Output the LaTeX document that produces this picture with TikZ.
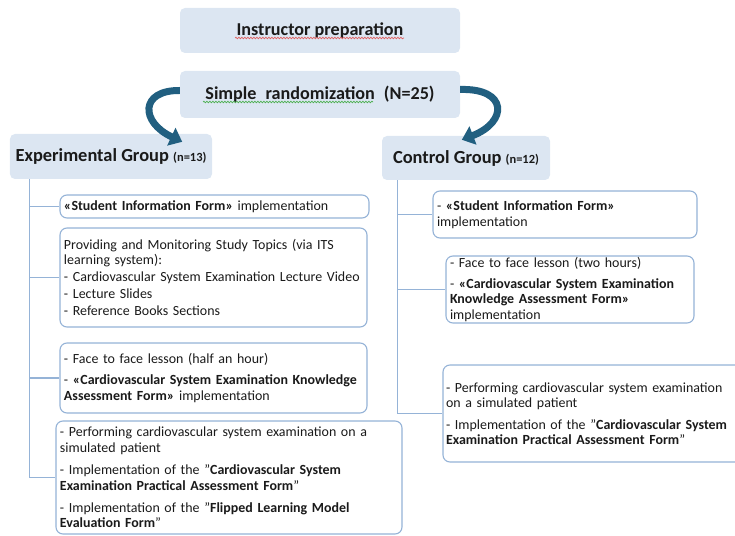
\documentclass[tikz,border=0pt]{standalone}
\usepackage{fontspec}
\setmainfont{Carlito}
\usetikzlibrary{arrows.meta,calc,decorations.pathmorphing}
\definecolor{boxfill}{HTML}{DCE6F2}
\definecolor{lineblue}{HTML}{95B3D7}
\definecolor{arrowblue}{HTML}{215F80}
\definecolor{txt}{HTML}{1A1A1A}
\definecolor{spellred}{HTML}{E06060}
\definecolor{spellgreen}{HTML}{4CAF50}
\begin{document}
\begin{tikzpicture}[x=1bp,y=-1bp,
  head/.style={fill=boxfill, rounded corners=5bp, inner sep=0pt, text=txt,
    minimum width=280bp, font=\fontsize{18.2}{21}\selectfont\bfseries},
  grp/.style={fill=boxfill, rounded corners=5bp, inner sep=0pt, text=txt,
    font=\fontsize{18.5}{21}\selectfont\bfseries},
  item/.style={draw=lineblue, line width=1.1bp, fill=white, rounded corners=7bp,
    inner xsep=4bp, inner ysep=0pt, align=left, text=txt,
    font=\fontsize{14}{15.5}\selectfont},
  conn/.style={draw=lineblue, line width=1.2bp},
  bigarrow/.style={draw=arrowblue, line width=7bp, -{Triangle[width=19bp,length=12bp]}},
  squiggle/.style={line width=0.7bp, decorate, decoration={snake, amplitude=0.8bp, segment length=3bp}}
]
\useasboundingbox (0,0) rectangle (735,536);

% header boxes
\node[head, minimum height=45bp] (inst) at (320,30.5) {Instructor preparation};
\node[head, minimum height=47bp] (rand) at (320,94.5)
  {Simple\hspace{0.5em}randomization\hspace{0.5em}(N=25)};

% spell-check underlines seen in the reference
\draw[squiggle, spellred] ($(inst.center)+(-85,7.5)$) -- ($(inst.center)+(84,7.5)$);
\draw[squiggle, spellgreen] ($(rand.center)+(-117,7.5)$) -- ($(rand.center)+(53,7.5)$);

% group boxes
\node[grp, minimum width=202bp, minimum height=45bp] (exp) at (111,156.5)
  {Experimental Group {\fontsize{12.5}{14}\selectfont (n=13)}};
\node[grp, minimum width=168bp, minimum height=44bp] (ctrl) at (466,158)
  {Control Group {\fontsize{12.5}{14}\selectfont (n=12)}};

% experimental items
\node[item, text width=301bp, minimum height=23bp] (e1) at (214.5,206.5)
  {\textbf{«Student Information Form»} implementation};
\node[item, text width=299bp, minimum height=99bp] (e2) at (213.5,277.5)
  {Providing and Monitoring Study Topics (via ITS\\
   learning system):\\[1.5bp]
   - Cardiovascular System Examination Lecture Video\\[1.5bp]
   - Lecture Slides\\[1.5bp]
   - Reference Books Sections};
\node[item, text width=299bp, minimum height=70bp] (e3) at (213.5,378)
  {- Face to face lesson (half an hour)\\[6bp]
   - \textbf{«Cardiovascular System Examination Knowledge}\\
   \textbf{Assessment Form»} implementation};
\node[item, text width=338bp, minimum height=113bp] (e4) at (229,477.5)
  {- Performing cardiovascular system examination on a\\
   simulated patient\\[7bp]
   - Implementation of the "\textbf{Cardiovascular System}\\
   \textbf{Examination Practical Assessment Form}"\\[7bp]
   - Implementation of the "\textbf{Flipped Learning Model}\\
   \textbf{Evaluation Form}"};

% control items
\node[item, text width=256bp, minimum height=47bp] (c1) at (565,214.5)
  {- \textbf{«Student Information Form»}\\
   implementation};
\node[item, text width=240bp, minimum height=67bp] (c2) at (570,289.5)
  {- Face to face lesson (two hours)\\[5bp]
   - \textbf{«Cardiovascular System Examination}\\
   \textbf{Knowledge Assessment Form»}\\
   implementation};
\node[item, inner xsep=3bp, text width=296bp, minimum height=97bp] (c3) at (594,413.5)
  {- Performing cardiovascular system examination\\
   on a simulated patient\\[6bp]
   - Implementation of the "\textbf{Cardiovascular System}\\
   \textbf{Examination Practical Assessment Form}"};

% tree connectors
\coordinate (ltrunk) at ($(exp.south west)+(20,0)$);
\coordinate (rtrunk) at ($(ctrl.south west)+(16,0)$);
\foreach \b in {e1,e2,e3,e4} \draw[conn] (ltrunk) |- (\b.west);
\foreach \b in {c1,c2,c3} \draw[conn] (rtrunk) |- (\b.west);

% curved arrows
\draw[bigarrow] ($(rand.west)+(0,-4)$) .. controls (140,90) and (140,122) .. ($(exp.north east)+(-30,8)$);
\draw[bigarrow] ($(rand.east)+(0,-5)$) .. controls (508,88) and (508,122) .. ($(ctrl.north west)+(80,4)$);
\end{tikzpicture}
\end{document}
